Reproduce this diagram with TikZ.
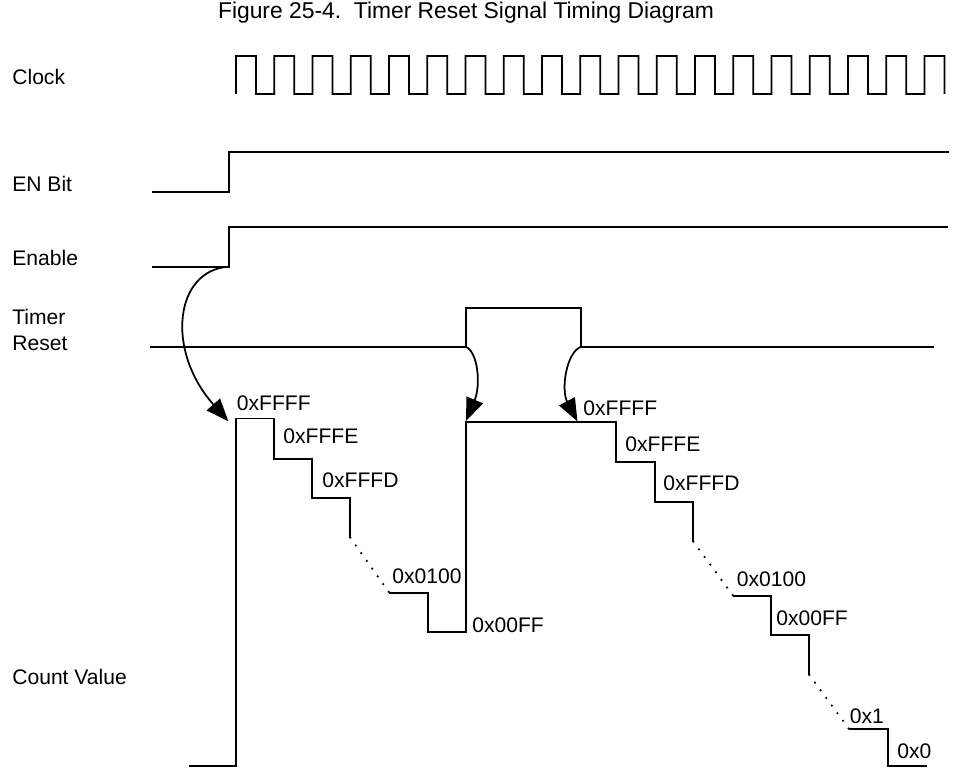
\documentclass[tikz,border=0pt]{standalone}
\usepackage{fontspec}
\setmainfont{Liberation Sans}
\usepackage{tikz}
\usetikzlibrary{arrows.meta}

\tikzset{
    wave/.style={draw=black, line width=1pt},
    sig/.style={anchor=base west, inner sep=0pt, font=\fontsize{12}{14.5}\selectfont},
    hexval/.style={anchor=base west, inner sep=0pt, font=\fontsize{12}{14.5}\selectfont},
    skip/.style={draw=black, line width=1.4pt, line cap=round, dash pattern=on 0pt off 5.4pt},
    trig/.style={draw=black, line width=1pt, -{Triangle[length=13pt, width=10pt]}}
}

\begin{document}
\begin{tikzpicture}[x=0.02cm, y=-0.02cm]
    \useasboundingbox (0,0) rectangle (956,767);

    \node[anchor=base, inner sep=0pt, font=\fontsize{13}{15.5}\selectfont] (title) at (466,19) {Figure 25-4.\ \ Timer Reset Signal Timing Diagram};

    \node[sig] (clklbl) at (12,84.3) {Clock};
    \node[sig] (enlbl) at (12,191.7) {EN Bit};
    \node[sig] (enablelbl) at (12,265) {Enable};
    \node[anchor=north west, align=left, inner sep=0pt, font=\fontsize{12}{14.8}\selectfont] (rstlbl) at (12,309.3) {Timer\\Reset};
    \node[sig] (cntlbl) at (12,684) {Count Value};

    \draw[wave] (236,94) \foreach \k in {0,...,17} { -- ({236+38.25*\k},56) -- ++(20,0) -- ++(0,38) -- ++(18.25,0) } -- (924.5,56) -- (944.5,56) -- (944.5,94);

    \draw[wave] (152,192.3) -- (228.7,192.3) -- (228.7,151.7) -- (949,151.7);
    \draw[wave] (152,266.7) -- (228.7,266.7) -- (228.7,227.3) -- (948,227.3);
    \draw[wave] (150,346.7) -- (465.7,346.7) -- (465.7,307.7) -- (581.3,307.7) -- (581.3,346.7) -- (934,346.7);

    \coordinate (enableup) at (228.7,266.7);
    \coordinate (rstup) at (465.7,346.7);
    \coordinate (rstdown) at (581.3,346.7);
    \coordinate (load1) at (228.5,421.5);
    \coordinate (load2) at (466,421);
    \coordinate (load3) at (577.5,421.5);

    \draw[wave] (189,765.7) -- (235.7,765.7) -- (235.7,418.5) -- (273.7,418.5) -- (273.7,459.3) -- (312,459.3) -- (312,498.3) -- (350.3,498.3) -- (350.3,537.7);
    \draw[skip] (350.3,537.7) -- (389.3,592.7);
    \draw[wave] (389.3,592.7) -- (428.3,592.7) -- (428.3,631.7) -- (465.7,631.7) -- (465.7,421.7) -- (616,421.7) -- (616,462.3) -- (655,462.3) -- (655,501.7) -- (693.3,501.7) -- (693.3,541.7);
    \draw[skip] (693.3,541.7) -- (733.3,596);
    \draw[wave] (733.3,596) -- (771,596) -- (771,635.3) -- (809.3,635.3) -- (809.3,675);
    \draw[skip] (809.3,675) -- (849.3,729.3);
    \draw[wave] (849.3,729.3) -- (888,729.3) -- (888,765.7) -- (926.7,765.7);

    \draw[trig] (enableup) .. controls (175,270) and (165,350) .. (load1);
    \draw[trig] (rstup) .. controls (478,352) and (481,385) .. (load2);
    \draw[trig] (rstdown) .. controls (566,352) and (561,390) .. (load3);

    \node[hexval] (ffffa) at (236.5,410.7) {0xFFFF};
    \node[hexval] (fffea) at (283,443.3) {0xFFFE};
    \node[hexval] (fffda) at (322,487.7) {0xFFFD};
    \node[hexval] (x0100a) at (392,583.3) {0x0100};
    \node[hexval] (x00ffa) at (472,632) {0x00FF};

    \node[hexval] (ffffb) at (583,415) {0xFFFF};
    \node[hexval] (fffeb) at (625,451.7) {0xFFFE};
    \node[hexval] (fffdb) at (663,490) {0xFFFD};
    \node[hexval] (x0100b) at (736.5,586.7) {0x0100};
    \node[hexval] (x00ffb) at (776,625.7) {0x00FF};
    \node[hexval] (xone) at (849.5,723.3) {0x1};
    \node[hexval] (xzero) at (897,758.7) {0x0};
\end{tikzpicture}
\end{document}
